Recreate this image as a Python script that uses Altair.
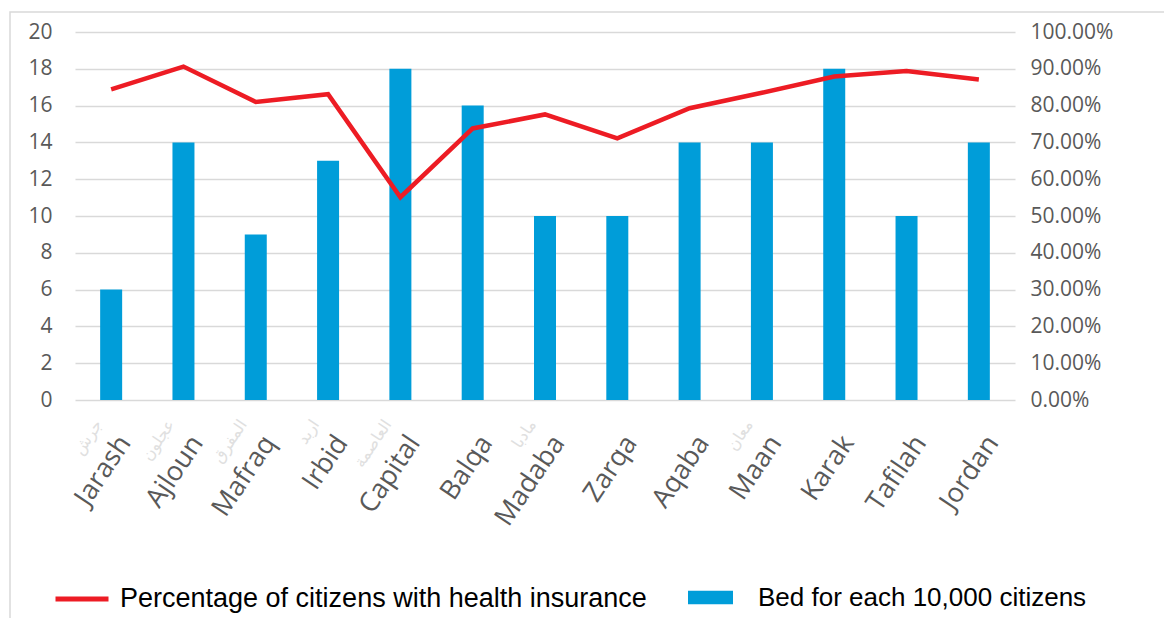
import altair as alt
import pandas as pd

regions = ["Jarash", "Ajloun", "Mafraq", "Irbid", "Capital", "Balqa", "Madaba",
           "Zarqa", "Aqaba", "Maan", "Karak", "Tafilah", "Jordan"]
arabic = ["جرش", "عجلون", "المفرق", "اربد", "العاصمة", "", "مادبا",
          "", "", "معان", "", "", ""]
beds = [6, 14, 9, 13, 18, 16, 10, 10, 14, 14, 18, 10, 14]
insured = [0.844, 0.906, 0.810, 0.831, 0.551, 0.738, 0.776,
           0.711, 0.793, 0.835, 0.879, 0.894, 0.871]

bar_name = "Bed for each 10,000 citizens"
line_name = "Percentage of citizens with health insurance"

df = pd.DataFrame({"region": regions, "arabic": arabic, "beds": beds, "insured": insured})

AX_FONT = "Open Sans"
LEG_FONT = "Liberation Sans"
GRAY = "#595959"

x_enc = alt.X(
    "region:N", sort=regions,
    scale=alt.Scale(paddingInner=0, paddingOuter=0),
    axis=alt.Axis(title=None, domain=False, ticks=False, labelAngle=-56,
                  labelAlign="right", labelBaseline="middle", labelPadding=38,
                  labelOffset=14, labelFont=AX_FONT, labelFontSize=27,
                  labelColor=GRAY, labelOverlap=False, labelLimit=0),
)

base = alt.Chart(df)

bars = base.transform_calculate(series=f"'{bar_name}'").mark_bar(size=22).encode(
    x=x_enc,
    y=alt.Y("beds:Q", scale=alt.Scale(domain=[0, 20]),
            axis=alt.Axis(title=None, values=list(range(0, 21, 2)), domain=False,
                          ticks=False, labelPadding=23, labelFont=AX_FONT,
                          labelFontSize=21, labelColor=GRAY, gridColor="#D9D9D9",
                          gridWidth=1.5)),
    color=alt.Color("series:N", scale=alt.Scale(range=["#009DD9"]),
                    legend=alt.Legend(title=None, orient="none", legendX=613, legendY=543,
                                      padding=0, symbolType="M-1,-0.3H1V0.3H-1Z",
                                      symbolSize=2025, symbolStrokeWidth=0,
                                      labelFont=LEG_FONT, labelFontSize=26, labelLimit=0,
                                      labelColor="#000000", labelOffset=25)),
)

line = base.transform_calculate(series=f"'{line_name}'").mark_line(strokeWidth=4.5).encode(
    x=x_enc,
    y=alt.Y("insured:Q", scale=alt.Scale(domain=[0, 1]),
            axis=alt.Axis(title=None, orient="right", format=".2%",
                          values=[i / 10 for i in range(11)], domain=False, ticks=False,
                          grid=False, labelPadding=15, labelFont=AX_FONT,
                          labelFontSize=21, labelColor=GRAY)),
    stroke=alt.Stroke("series:N", scale=alt.Scale(range=["#ED1C24"]),
                      legend=alt.Legend(title=None, orient="none", legendX=-22, legendY=538,
                                        padding=0, symbolType="M-1,0H1", symbolSize=2809,
                                        symbolStrokeWidth=5, labelFont=LEG_FONT,
                                        labelFontSize=27, labelLimit=0,
                                        labelColor="#000000", labelOffset=9)),
)

arab = base.mark_text(angle=304, align="right", baseline="middle", font="DejaVu Sans",
                      fontSize=16, color="#E0E0E0", dy=-15).encode(
    x=alt.X("region:N", sort=regions),
    y=alt.value(398),
    text="arabic:N",
)

frame = alt.Chart(pd.DataFrame({"k": [0]})).mark_rect(
    fill="transparent", stroke="#D9D9D9", strokeWidth=1.5).encode(
    x=alt.value(-65), x2=alt.value(1200), y=alt.value(-20), y2=alt.value(700))

chart = alt.layer(frame, bars, line, arab).resolve_scale(
    y="independent", color="independent", stroke="independent"
).properties(
    width=940, height=368,
    autosize=alt.AutoSizeParams(type="none"),
    padding={"left": 67, "top": 24, "right": 149, "bottom": 218},
).configure_view(stroke=None)

chart.save("out.html", embed_options={"renderer": "svg", "actions": False})
